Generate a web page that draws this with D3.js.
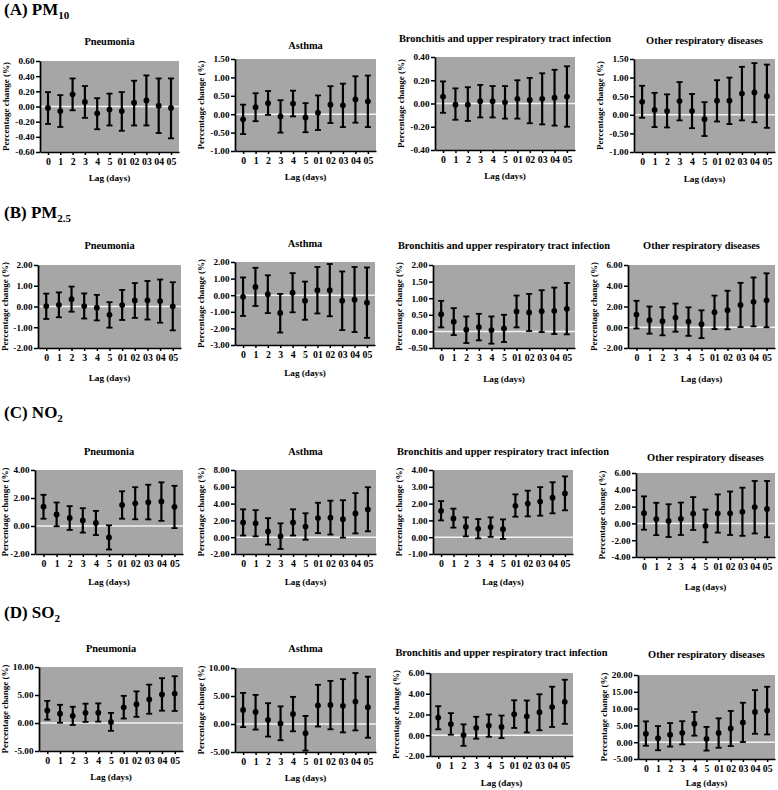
<!DOCTYPE html>
<html><head><meta charset="utf-8">
<script src="https://cdn.jsdelivr.net/npm/d3@7"></script>
<style>
body{margin:0;background:#fff}
svg{display:block}
text{font-family:"Liberation Serif","Times New Roman",serif;font-weight:bold;fill:#000}
</style>
</head><body><svg id="c" width="778" height="790"></svg>
<script>
// ---------- categories / labels ----------
const lags = ["0","1","2","3","4","5","01","02","03","04","05"];
const diseases = ["Pneumonia","Asthma","Bronchitis and upper respiratory tract infection","Other respiratory diseases"];
const pollutantLabels = ["(A) PM","(B) PM","(C) NO","(D) SO"];
const pollutantSubs = ["10","2.5","2","2"];
const yAxisLabel = "Percentage change (%)";
const xAxisLabel = "Lag (days)";

// ---------- data: [estimate, lower 95% CI, upper 95% CI] per lag ----------
// (A) PM10
const pm10_pneumonia = [[-0.02,-0.23,0.19],[-0.06,-0.27,0.15],[0.16,-0.05,0.37],[0.06,-0.15,0.27],[-0.09,-0.30,0.11],[-0.04,-0.25,0.17],[-0.06,-0.32,0.19],[0.05,-0.25,0.34],[0.08,-0.25,0.41],[0.01,-0.35,0.37],[-0.02,-0.42,0.37]];
const pm10_asthma = [[-0.14,-0.54,0.26],[0.19,-0.19,0.57],[0.30,-0.02,0.63],[-0.06,-0.50,0.38],[0.29,-0.06,0.64],[-0.09,-0.49,0.30],[0.04,-0.43,0.51],[0.26,-0.24,0.76],[0.24,-0.35,0.83],[0.40,-0.23,1.03],[0.35,-0.35,1.05]];
const pm10_bronchitis = [[0.06,-0.08,0.19],[-0.01,-0.14,0.13],[-0.01,-0.15,0.14],[0.02,-0.12,0.16],[0.02,-0.12,0.15],[0.01,-0.13,0.15],[0.04,-0.13,0.20],[0.03,-0.17,0.22],[0.04,-0.18,0.26],[0.05,-0.19,0.29],[0.06,-0.20,0.32]];
const pm10_other = [[0.35,-0.08,0.78],[0.13,-0.33,0.59],[0.10,-0.34,0.55],[0.37,-0.15,0.88],[0.10,-0.36,0.56],[-0.12,-0.57,0.34],[0.38,-0.18,0.93],[0.38,-0.25,1.00],[0.57,-0.15,1.29],[0.60,-0.20,1.39],[0.50,-0.35,1.35]];
// (B) PM2.5
const pm25_pneumonia = [[0.02,-0.60,0.62],[0.08,-0.52,0.68],[0.35,-0.25,0.96],[0.02,-0.58,0.63],[-0.06,-0.67,0.56],[-0.40,-1.02,0.21],[0.07,-0.65,0.80],[0.29,-0.55,1.13],[0.30,-0.63,1.23],[0.26,-0.78,1.30],[0.01,-1.15,1.17]];
const pm25_asthma = [[-0.10,-1.25,1.07],[0.50,-0.65,1.65],[0.06,-1.08,1.20],[-1.07,-2.25,0.08],[0.15,-1.03,1.33],[-0.33,-1.48,0.82],[0.30,-1.10,1.70],[0.30,-1.27,1.88],[-0.33,-2.10,1.43],[-0.27,-2.22,1.70],[-0.45,-2.57,1.67]];
const pm25_bronchitis = [[0.52,0.12,0.92],[0.29,-0.11,0.70],[0.05,-0.35,0.45],[0.13,-0.27,0.53],[0.04,-0.37,0.45],[0.09,-0.32,0.50],[0.60,0.12,1.08],[0.57,0.01,1.13],[0.61,-0.02,1.24],[0.62,-0.08,1.32],[0.68,-0.09,1.46]];
const pm25_other = [[1.22,-0.12,2.55],[0.68,-0.62,2.00],[0.58,-0.78,1.93],[0.93,-0.43,2.28],[0.55,-0.83,1.92],[0.30,-1.05,1.63],[1.45,-0.18,3.05],[1.65,-0.20,3.52],[2.15,0.02,4.28],[2.45,0.08,4.80],[2.60,0.00,5.20]];
// (C) NO2
const no2_pneumonia = [[1.38,0.52,2.23],[0.82,-0.02,1.68],[0.58,-0.28,1.42],[0.40,-0.47,1.27],[0.22,-0.65,1.08],[-0.82,-1.68,0.05],[1.50,0.52,2.48],[1.62,0.48,2.77],[1.70,0.47,2.95],[1.75,0.37,3.12],[1.37,-0.15,2.87]];
const no2_asthma = [[1.75,0.20,3.32],[1.65,0.10,3.22],[0.68,-0.88,2.27],[0.10,-1.40,1.65],[1.75,0.20,3.32],[1.27,-0.30,2.85],[2.28,0.48,4.10],[2.33,0.32,4.35],[2.15,-0.05,4.40],[2.82,0.45,5.25],[3.30,0.70,5.95]];
const no2_bronchitis = [[1.57,1.00,2.15],[1.12,0.57,1.70],[0.62,0.05,1.18],[0.50,-0.07,1.08],[0.60,0.02,1.18],[0.48,-0.10,1.06],[1.87,1.22,2.55],[2.00,1.24,2.77],[2.12,1.28,2.98],[2.35,1.42,3.27],[2.60,1.60,3.62]];
const no2_other = [[1.22,-0.75,3.22],[0.52,-1.40,2.45],[0.30,-1.62,2.28],[0.55,-1.38,2.48],[1.17,-0.78,3.13],[-0.30,-2.25,1.65],[1.18,-1.10,3.45],[1.20,-1.38,3.80],[1.38,-1.48,4.25],[1.93,-1.20,5.05],[1.72,-1.65,5.05]];
// (D) SO2
const so2_pneumonia = [[2.25,0.60,3.95],[1.65,0.05,3.25],[1.28,-0.35,2.90],[1.82,0.20,3.45],[1.85,0.25,3.50],[0.20,-1.40,1.80],[2.80,0.80,4.85],[3.35,1.10,5.65],[4.20,1.65,6.85],[5.10,2.20,8.00],[5.25,2.15,8.35]];
const so2_asthma = [[2.50,-0.55,5.55],[2.15,-1.00,5.20],[0.75,-2.25,3.72],[0.10,-2.90,3.15],[1.80,-1.30,4.85],[-1.65,-4.75,1.45],[3.30,-0.45,7.00],[3.40,-0.95,7.70],[3.25,-1.50,8.00],[4.00,-1.15,9.10],[3.00,-2.45,8.45]];
const so2_bronchitis = [[1.70,0.57,2.80],[1.08,0.05,2.13],[0.02,-1.02,1.05],[0.72,-0.33,1.78],[0.93,-0.15,2.00],[0.80,-0.28,1.90],[2.03,0.70,3.37],[1.82,0.27,3.35],[2.22,0.48,3.95],[2.72,0.80,4.68],[3.22,1.10,5.35]];
const so2_other = [[2.55,-1.05,6.20],[1.20,-2.40,4.80],[2.25,-1.30,5.70],[2.80,-0.65,6.25],[5.50,1.95,9.00],[1.00,-2.50,4.55],[2.75,-1.65,7.10],[4.10,-1.15,9.30],[5.90,0.05,11.75],[9.00,2.50,15.50],[9.40,2.30,16.50]];

// ---------- y-axis tick values per panel ----------
const pm10_pneumonia_ticks = [-0.6,-0.4,-0.2,0,0.2,0.4,0.6];
const pm10_asthma_ticks = [-1,-0.5,0,0.5,1,1.5];
const pm10_bronchitis_ticks = [-0.4,-0.2,0,0.2,0.4];
const pm10_other_ticks = [-1,-0.5,0,0.5,1,1.5];
const pm25_pneumonia_ticks = [-2,-1,0,1,2];
const pm25_asthma_ticks = [-3,-2,-1,0,1,2];
const pm25_bronchitis_ticks = [-0.5,0,0.5,1,1.5,2];
const pm25_other_ticks = [-2,0,2,4,6];
const no2_pneumonia_ticks = [-2,0,2,4];
const no2_asthma_ticks = [-2,0,2,4,6,8];
const no2_bronchitis_ticks = [-1,0,1,2,3,4];
const no2_other_ticks = [-4,-2,0,2,4,6];
const so2_pneumonia_ticks = [-5,0,5,10];
const so2_asthma_ticks = [-5,0,5,10];
const so2_bronchitis_ticks = [-2,0,2,4,6];
const so2_other_ticks = [-5,0,5,10,15,20];

const panelData = [
  [pm10_pneumonia, pm10_asthma, pm10_bronchitis, pm10_other],
  [pm25_pneumonia, pm25_asthma, pm25_bronchitis, pm25_other],
  [no2_pneumonia, no2_asthma, no2_bronchitis, no2_other],
  [so2_pneumonia, so2_asthma, so2_bronchitis, so2_other]
];
const panelTicks = [
  [pm10_pneumonia_ticks, pm10_asthma_ticks, pm10_bronchitis_ticks, pm10_other_ticks],
  [pm25_pneumonia_ticks, pm25_asthma_ticks, pm25_bronchitis_ticks, pm25_other_ticks],
  [no2_pneumonia_ticks, no2_asthma_ticks, no2_bronchitis_ticks, no2_other_ticks],
  [so2_pneumonia_ticks, so2_asthma_ticks, so2_bronchitis_ticks, so2_other_ticks]
];

// ---------- layout (plot left, right, top, bottom, title y, x-label y) ----------
const headerY = [15, 218, 418, 618];
const layout = [
  [[40,179,61,152,43,179],[235,376,59,151,47,178],[435,575,57,150,40,177],[634,775,59,152,42,180]],
  [[38,181,265,348,247,379],[235,375,262,345,245,374],[433,575,265,348,247,380],[628,775,265,348,247,380]],
  [[35,183,470,554,453,583],[235,376,470,554,453,583],[433,573,470,554,453,583],[636,775,473,557,459,588]],
  [[39,183,667,751,650,778],[235,376,668,752,650,779],[430,573,673,756,654,784],[638,775,675,759,656,784]]
];

const svg = d3.select("#c");
const fmt = d => d.toFixed(2);

panelData.forEach((row, r) => {
  const h = svg.append("text").attr("x", 4).attr("y", headerY[r]).style("font-size", "17px");
  h.append("tspan").text(pollutantLabels[r]);
  h.append("tspan").attr("dy", 4).style("font-size", "11px").text(pollutantSubs[r]);

  row.forEach((data, c) => {
    const [L, R, T, B, tY, lY] = layout[r][c];
    const ticks = panelTicks[r][c];
    const g = svg.append("g");
    const x = d3.scalePoint().domain(lags).range([L, R]).padding(0.65);
    const y = d3.scaleLinear().domain([ticks[0], ticks[ticks.length - 1]]).range([B, T]);

    g.append("rect").attr("x", L).attr("y", T).attr("width", R - L).attr("height", B - T).attr("fill", "#a6a6a6");
    g.append("line").attr("x1", L).attr("x2", R).attr("y1", y(0)).attr("y2", y(0))
      .attr("stroke", "#f2f2f2").attr("stroke-width", 1.5);

    const bars = g.selectAll(".eb").data(data).join("g").attr("class", "eb");
    bars.append("line")
      .attr("x1", (d, i) => x(lags[i])).attr("x2", (d, i) => x(lags[i]))
      .attr("y1", d => y(d[1])).attr("y2", d => y(d[2]))
      .attr("stroke", "#000").attr("stroke-width", 2.2);
    [1, 2].forEach(k => {
      bars.append("line")
        .attr("x1", (d, i) => x(lags[i]) - 3).attr("x2", (d, i) => x(lags[i]) + 3)
        .attr("y1", d => y(d[k])).attr("y2", d => y(d[k]))
        .attr("stroke", "#000").attr("stroke-width", 1.8);
    });
    bars.append("circle")
      .attr("cx", (d, i) => x(lags[i])).attr("cy", d => y(d[0])).attr("r", 2.9).attr("fill", "#000");

    const ya = g.append("g").attr("transform", `translate(${L},0)`)
      .call(d3.axisLeft(y).tickValues(ticks).tickFormat(fmt).tickSize(4).tickSizeOuter(0).tickPadding(1.5));
    const xa = g.append("g").attr("transform", `translate(0,${B})`)
      .call(d3.axisBottom(x).tickSize(3).tickSizeOuter(0).tickPadding(3));
    [ya, xa].forEach(a => {
      a.attr("font-family", null).attr("font-size", null);
      a.select(".domain").attr("stroke", "#000").attr("stroke-width", 1.7);
      a.selectAll(".tick line").attr("stroke", "#000").attr("stroke-width", 1.5);
      a.selectAll("text").style("font-size", "9.2px").attr("fill", "#000");
    });
    xa.selectAll("text").style("font-size", "9.8px");

    g.append("text").attr("x", (L + R) / 2).attr("y", tY).attr("text-anchor", "middle")
      .attr("dominant-baseline", "middle").style("font-size", "10.4px").text(diseases[c]);
    g.append("text").attr("x", (L + R) / 2).attr("y", lY).attr("text-anchor", "middle")
      .attr("dominant-baseline", "middle").style("font-size", "9.2px").text(xAxisLabel);
    g.append("text").attr("transform", `translate(${Math.max(L - 33, 6)},${(T + B) / 2}) rotate(-90)`)
      .attr("text-anchor", "middle").attr("dominant-baseline", "middle")
      .style("font-size", "9px").text(yAxisLabel);
  });
});
</script>
</body></html>
